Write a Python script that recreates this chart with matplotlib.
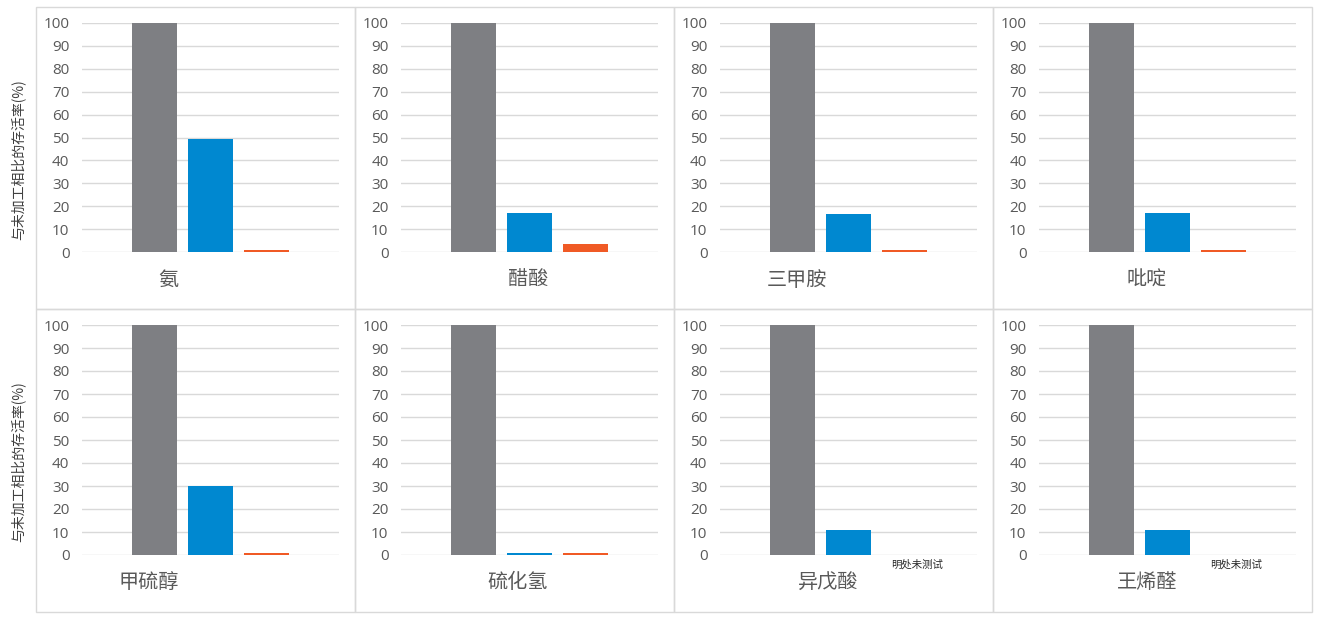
import numpy as np
import matplotlib
matplotlib.use('Agg')
import matplotlib.pyplot as plt
from matplotlib.patches import Rectangle

plt.rcParams['font.family'] = ['Noto Sans CJK SC', 'DejaVu Sans']

# 数据
categories = ['氨', '醋酸', '三甲胺', '吡啶', '甲硫醇', '硫化氢', '异戊酸', '王烯醛']
untreated = [100, 100, 100, 100, 100, 100, 100, 100]
treated_a = [49.5, 17, 16.5, 17, 30, 1, 11, 11]
treated_b = [1, 3.3, 1, 1, 1, 1, np.nan, np.nan]
yticks = list(range(0, 101, 10))
ylabel = '与未加工相比的存活率(%)'
untested_note = '明处未测试'

colors = ['#7e7f83', '#0088d0', '#f05a25']
grid_color = '#d9d9d9'
text_color = '#595959'

W, H = 1326, 623
fig = plt.figure(figsize=(W / 100, H / 100), dpi=100)

col_edges = [36, 355, 674, 993, 1312]
row_edges = [7, 309, 612]
# 每行坐标轴的像素位置 (100 的网格线, 0 的网格线)
row_axis_y = [(23, 252), (325, 555)]
# 类别标签的中心位置(像素)
label_pos = [(168, 280), (528, 280), (797, 280), (1147, 280),
             (149, 582), (518, 582), (828, 583), (1147, 583)]


def px_rect(x0, y0, x1, y1):
    return [x0 / W, 1 - y1 / H, (x1 - x0) / W, (y1 - y0) / H]


# 单元格边框
for r in range(2):
    for c in range(4):
        x0, x1 = col_edges[c], col_edges[c + 1]
        y0, y1 = row_edges[r], row_edges[r + 1]
        fig.patches.append(Rectangle((x0 / W, 1 - y1 / H), (x1 - x0) / W, (y1 - y0) / H,
                                     transform=fig.transFigure, fill=False,
                                     edgecolor=grid_color, linewidth=1.0))

for i, cat in enumerate(categories):
    r, c = divmod(i, 4)
    left = col_edges[c] + 46
    right = col_edges[c] + 303
    top, bottom = row_axis_y[r]
    ax = fig.add_axes(px_rect(left, top, right, bottom))

    xs = [-1, 0, 1]
    vals = [untreated[i], treated_a[i], treated_b[i]]
    for x, v, col in zip(xs, vals, colors):
        if not np.isnan(v):
            ax.bar(x, v, width=0.8, color=col, zorder=3)

    ax.set_xlim(-2.28, 2.28)
    ax.set_ylim(0, 100)
    ax.set_yticks(yticks)
    ax.set_xticks([])
    ax.grid(axis='y', color=grid_color, linewidth=1.0, zorder=0)
    ax.tick_params(axis='y', length=0, pad=9, labelsize=11, labelcolor=text_color)
    for lab in ax.get_yticklabels():
        lab.set_family(['Open Sans', 'DejaVu Sans'])
    for s in ax.spines.values():
        s.set_visible(False)

    if np.isnan(treated_b[i]):
        ax.annotate(untested_note, xy=(1, 0), xycoords='data',
                    xytext=(9, -7), textcoords='offset points',
                    ha='center', va='center', fontsize=7.5, color='#262626')

    lx, ly = label_pos[i]
    fig.text(lx / W, 1 - ly / H, cat, ha='center', va='center',
             fontsize=14.5, color=text_color)

    if c == 0:
        fig.text(18 / W, 1 - (row_edges[r] + 153) / H, ylabel, rotation=90,
                 ha='center', va='center', fontsize=10, color='#404040')

plt.savefig('out.png', dpi=100)
